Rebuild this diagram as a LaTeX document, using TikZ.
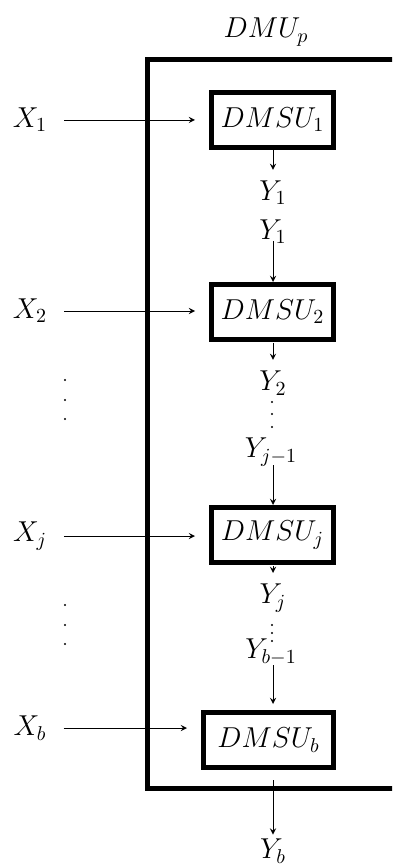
\documentclass[tikz,border=0pt]{standalone}
\usepackage{amsmath, amssymb}
\usetikzlibrary{arrows.meta}

\tikzset{
  unitbox/.style={draw, line width=2.5pt, minimum width=61pt, minimum height=27.5pt, inner sep=1pt},
  lab/.style={font=\Large},
}

\begin{document}
\begin{tikzpicture}[x=0.5pt, y=-0.5pt, >=stealth]
  \useasboundingbox (0,0) rectangle (392,865);
  \clip (0,0) rectangle (392,865);
  % outer unit
  \draw[line width=2.5pt] (147,60) rectangle (420,788);
  \node[lab] (dmu) at (266,32) {$DMU_p$};
  % sub units
  \node[unitbox, lab] (s1) at (272.5,120) {$DMSU_1$};
  \node[unitbox, lab] (s2) at (272.5,312) {$DMSU_2$};
  \node[unitbox, lab] (sj) at (272.5,535) {$DMSU_j$};
  \node[unitbox, lab, minimum width=65pt] (sb) at (268.5,740) {$DMSU_b$};
  % inputs
  \node[lab] (x1) at (30,120) {$X_1$};
  \node[lab] (x2) at (30,311) {$X_2$};
  \node[lab] (xj) at (30,536) {$X_j$};
  \node[lab] (xb) at (30,728) {$X_b$};
  \draw[->, shorten <=5pt, shorten >=7pt] (x1) -- (x1 -| s1.west);
  \draw[->, shorten <=5pt, shorten >=7pt] (x2) -- (x2 -| s2.west);
  \draw[->, shorten <=5pt, shorten >=7pt] (xj) -- (xj -| sj.west);
  \draw[->, shorten <=5pt, shorten >=7pt] (xb) -- (xb -| sb.west);
  % intermediate outputs
  \node[lab] (y1a) at (273,193) {$Y_1$};
  \node[lab] (y1b) at (273,232) {$Y_1$};
  \node[lab] (y2) at (273,383) {$Y_2$};
  \node[lab] (yjm) at (271,452) {$Y_{j-1}$};
  \node[lab] (yj) at (273,598) {$Y_j$};
  \node[lab] (ybm) at (271,652) {$Y_{b-1}$};
  \node[lab, inner sep=1pt] (yb) at (273,851) {$Y_b$};
  \coordinate (c1) at (273,150);
  \coordinate (c2) at (273,241);
  \coordinate (c3) at (273,465);
  \coordinate (c4) at (273,566);
  \coordinate (c5) at (273,665);
  \coordinate (c6) at (273,780);
  \coordinate (c7) at (273,343);
  \draw[->, shorten >=2pt] (c1) -- (y1a);
  \draw[->] (c2) -- (c2 |- s2.north);
  \draw[->, shorten >=2pt] (c7) -- (y2);
  \draw[->] (c3) -- (c3 |- sj.north);
  \draw[->, shorten >=2pt] (c4) -- (yj);
  \draw[->, shorten >=3pt] (c5) -- (c5 |- sb.north);
  \draw[->, shorten >=1pt] (c6) -- (yb);
  % dots
  \foreach \y in {402,414,427} \fill (272,\y) circle (0.6pt);
  \foreach \y in {625,633,641} \fill (272,\y) circle (0.6pt);
  \foreach \y in {380,400,419} \fill (65,\y) circle (0.6pt);
  \foreach \y in {605,625,644} \fill (65,\y) circle (0.6pt);
\end{tikzpicture}
\end{document}
